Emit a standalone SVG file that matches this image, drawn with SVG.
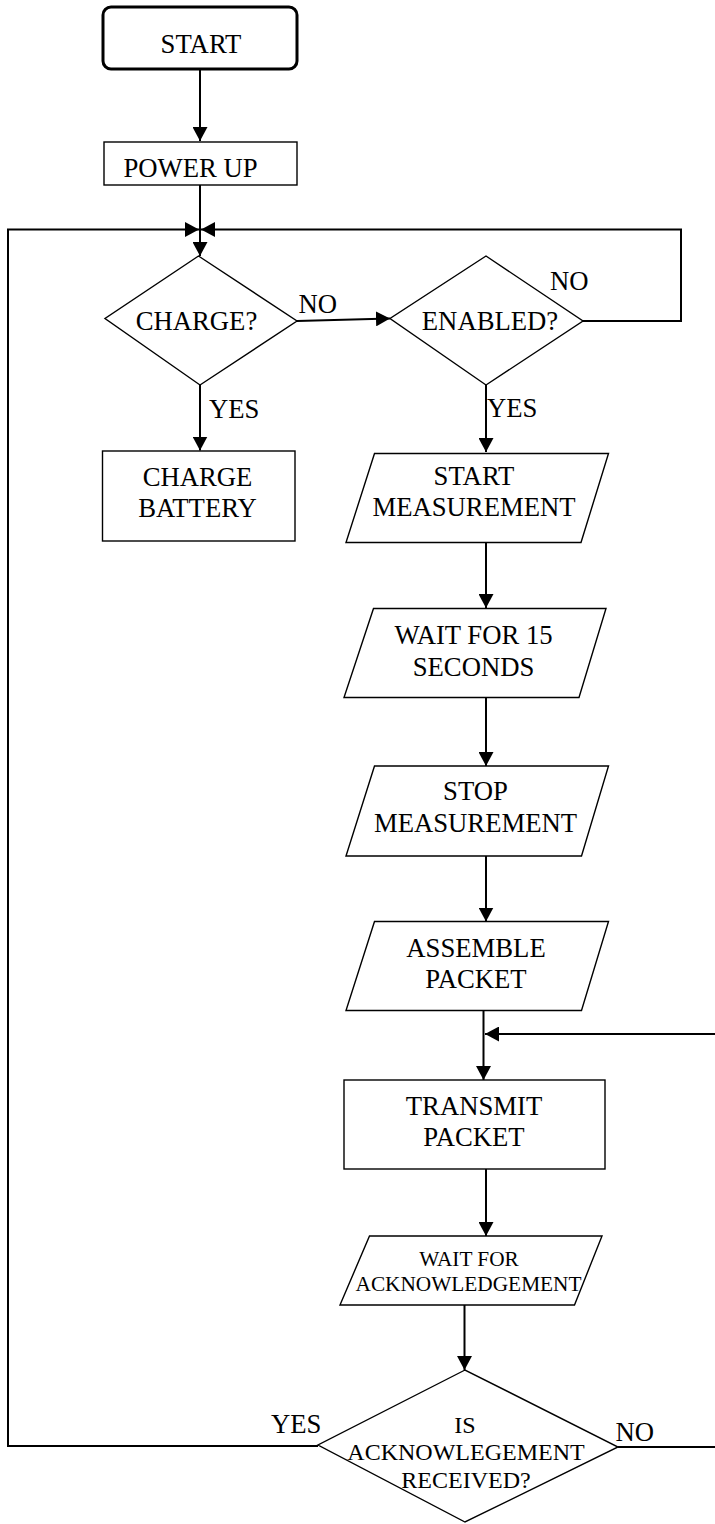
<svg xmlns="http://www.w3.org/2000/svg" width="715" height="1524" viewBox="0 0 715 1524">
  <style>
    .shape { fill: #ffffff; stroke: #000000; stroke-width: 1.4; }
    .term { fill: #ffffff; stroke: #000000; stroke-width: 3; }
    .conn { fill: none; stroke: #000000; stroke-width: 2; }
    text { font-family: "Liberation Serif", "Times New Roman", serif; font-size: 26.7px; fill: #000000; text-anchor: middle; }
    .small { font-size: 21.3px; }
    .mid { font-size: 24px; }
    .lbl { text-anchor: start; }
  </style>
  <defs>
    <marker id="arr" markerUnits="userSpaceOnUse" markerWidth="15" markerHeight="15" refX="14" refY="7.5" orient="auto">
      <path d="M0,0 L14,7.5 L0,15 z" fill="#000000"/>
    </marker>
  </defs>
  <rect width="715" height="1524" fill="#ffffff"/>

  <g id="connectors">
    <line class="conn" x1="200" y1="69" x2="200" y2="141" marker-end="url(#arr)"/>
    <line class="conn" x1="200" y1="185" x2="200" y2="256" marker-end="url(#arr)"/>
    <path class="conn" d="M318,1446 H8 V229.5 H199" marker-end="url(#arr)"/>
    <path class="conn" d="M583,321 H681 V229.5 H201" marker-end="url(#arr)"/>
    <line class="conn" x1="297" y1="321" x2="390" y2="318.5" marker-end="url(#arr)"/>
    <line class="conn" x1="200" y1="385" x2="200" y2="450.5" marker-end="url(#arr)"/>
    <line class="conn" x1="486" y1="385" x2="486" y2="452" marker-end="url(#arr)"/>
    <line class="conn" x1="486" y1="543" x2="486" y2="608" marker-end="url(#arr)"/>
    <line class="conn" x1="486" y1="697" x2="486" y2="766" marker-end="url(#arr)"/>
    <line class="conn" x1="486" y1="856" x2="486" y2="921.5" marker-end="url(#arr)"/>
    <line class="conn" x1="483.5" y1="1011" x2="483.5" y2="1080" marker-end="url(#arr)"/>
    <path class="conn" d="M618,1447 H717 V1034 H485" marker-end="url(#arr)"/>
    <line class="conn" x1="486" y1="1169" x2="486" y2="1236" marker-end="url(#arr)"/>
    <line class="conn" x1="464.5" y1="1305" x2="464.5" y2="1370" marker-end="url(#arr)"/>
  </g>

  <g id="start">
    <rect class="term" x="103" y="7" width="194" height="62" rx="8"/>
    <text x="201" y="53">START</text>
  </g>

  <g id="power-up">
    <rect class="shape" x="104" y="142" width="193" height="43"/>
    <text x="190.5" y="176.5">POWER UP</text>
  </g>

  <g id="charge">
    <polygon class="shape" points="198.5,256 105,318.5 200,385 297,321"/>
    <text x="196.5" y="329.5">CHARGE?</text>
  </g>

  <g id="enabled">
    <polygon class="shape" points="486,256 390,318.5 486,385 583,321"/>
    <text x="490" y="329.5">ENABLED?</text>
  </g>

  <g id="charge-battery">
    <rect class="shape" x="102.5" y="451" width="192.5" height="90"/>
    <text x="197.5" y="486">CHARGE</text>
    <text x="197.5" y="516.5">BATTERY</text>
  </g>

  <g id="start-measurement">
    <polygon class="shape" points="374.5,453.5 608.5,453.5 581,542.5 346,542.5"/>
    <text x="474" y="485">START</text>
    <text x="474" y="516">MEASUREMENT</text>
  </g>

  <g id="wait-15">
    <polygon class="shape" points="373.5,608.5 606,608.5 579,697.5 344,697.5"/>
    <text x="473.5" y="643.5">WAIT FOR 15</text>
    <text x="473.5" y="676">SECONDS</text>
  </g>

  <g id="stop-measurement">
    <polygon class="shape" points="374.5,766 608.5,766 581.5,856 346,856"/>
    <text x="475.5" y="800">STOP</text>
    <text x="475.5" y="831.5">MEASUREMENT</text>
  </g>

  <g id="assemble-packet">
    <polygon class="shape" points="374.5,921.5 608.5,921.5 581.5,1010.5 346,1010.5"/>
    <text x="476" y="956.5">ASSEMBLE</text>
    <text x="476" y="987.5">PACKET</text>
  </g>

  <g id="transmit-packet">
    <rect class="shape" x="344" y="1080" width="261" height="89"/>
    <text x="474" y="1115">TRANSMIT</text>
    <text x="474" y="1146">PACKET</text>
  </g>

  <g id="wait-ack">
    <polygon class="shape" points="369.5,1236 602,1236 574.5,1305 340,1305"/>
    <text class="small" x="469" y="1266">WAIT FOR</text>
    <text class="small" x="468.5" y="1291">ACKNOWLEDGEMENT</text>
  </g>

  <g id="ack-received">
    <polygon class="shape" points="465,1370 318,1445 465,1522 618,1447"/>
    <text class="mid" x="465" y="1432.5">IS</text>
    <text class="mid" x="466" y="1460">ACKNOWLEGEMENT</text>
    <text class="mid" x="466" y="1488">RECEIVED?</text>
  </g>

  <g id="labels">
    <text class="lbl" x="298.5" y="313">NO</text>
    <text class="lbl" x="550" y="289.5">NO</text>
    <text class="lbl" x="209" y="417.5">YES</text>
    <text class="lbl" x="487" y="417">YES</text>
    <text class="lbl" x="271" y="1432.5">YES</text>
    <text class="lbl" x="615.5" y="1440.5">NO</text>
  </g>
</svg>
